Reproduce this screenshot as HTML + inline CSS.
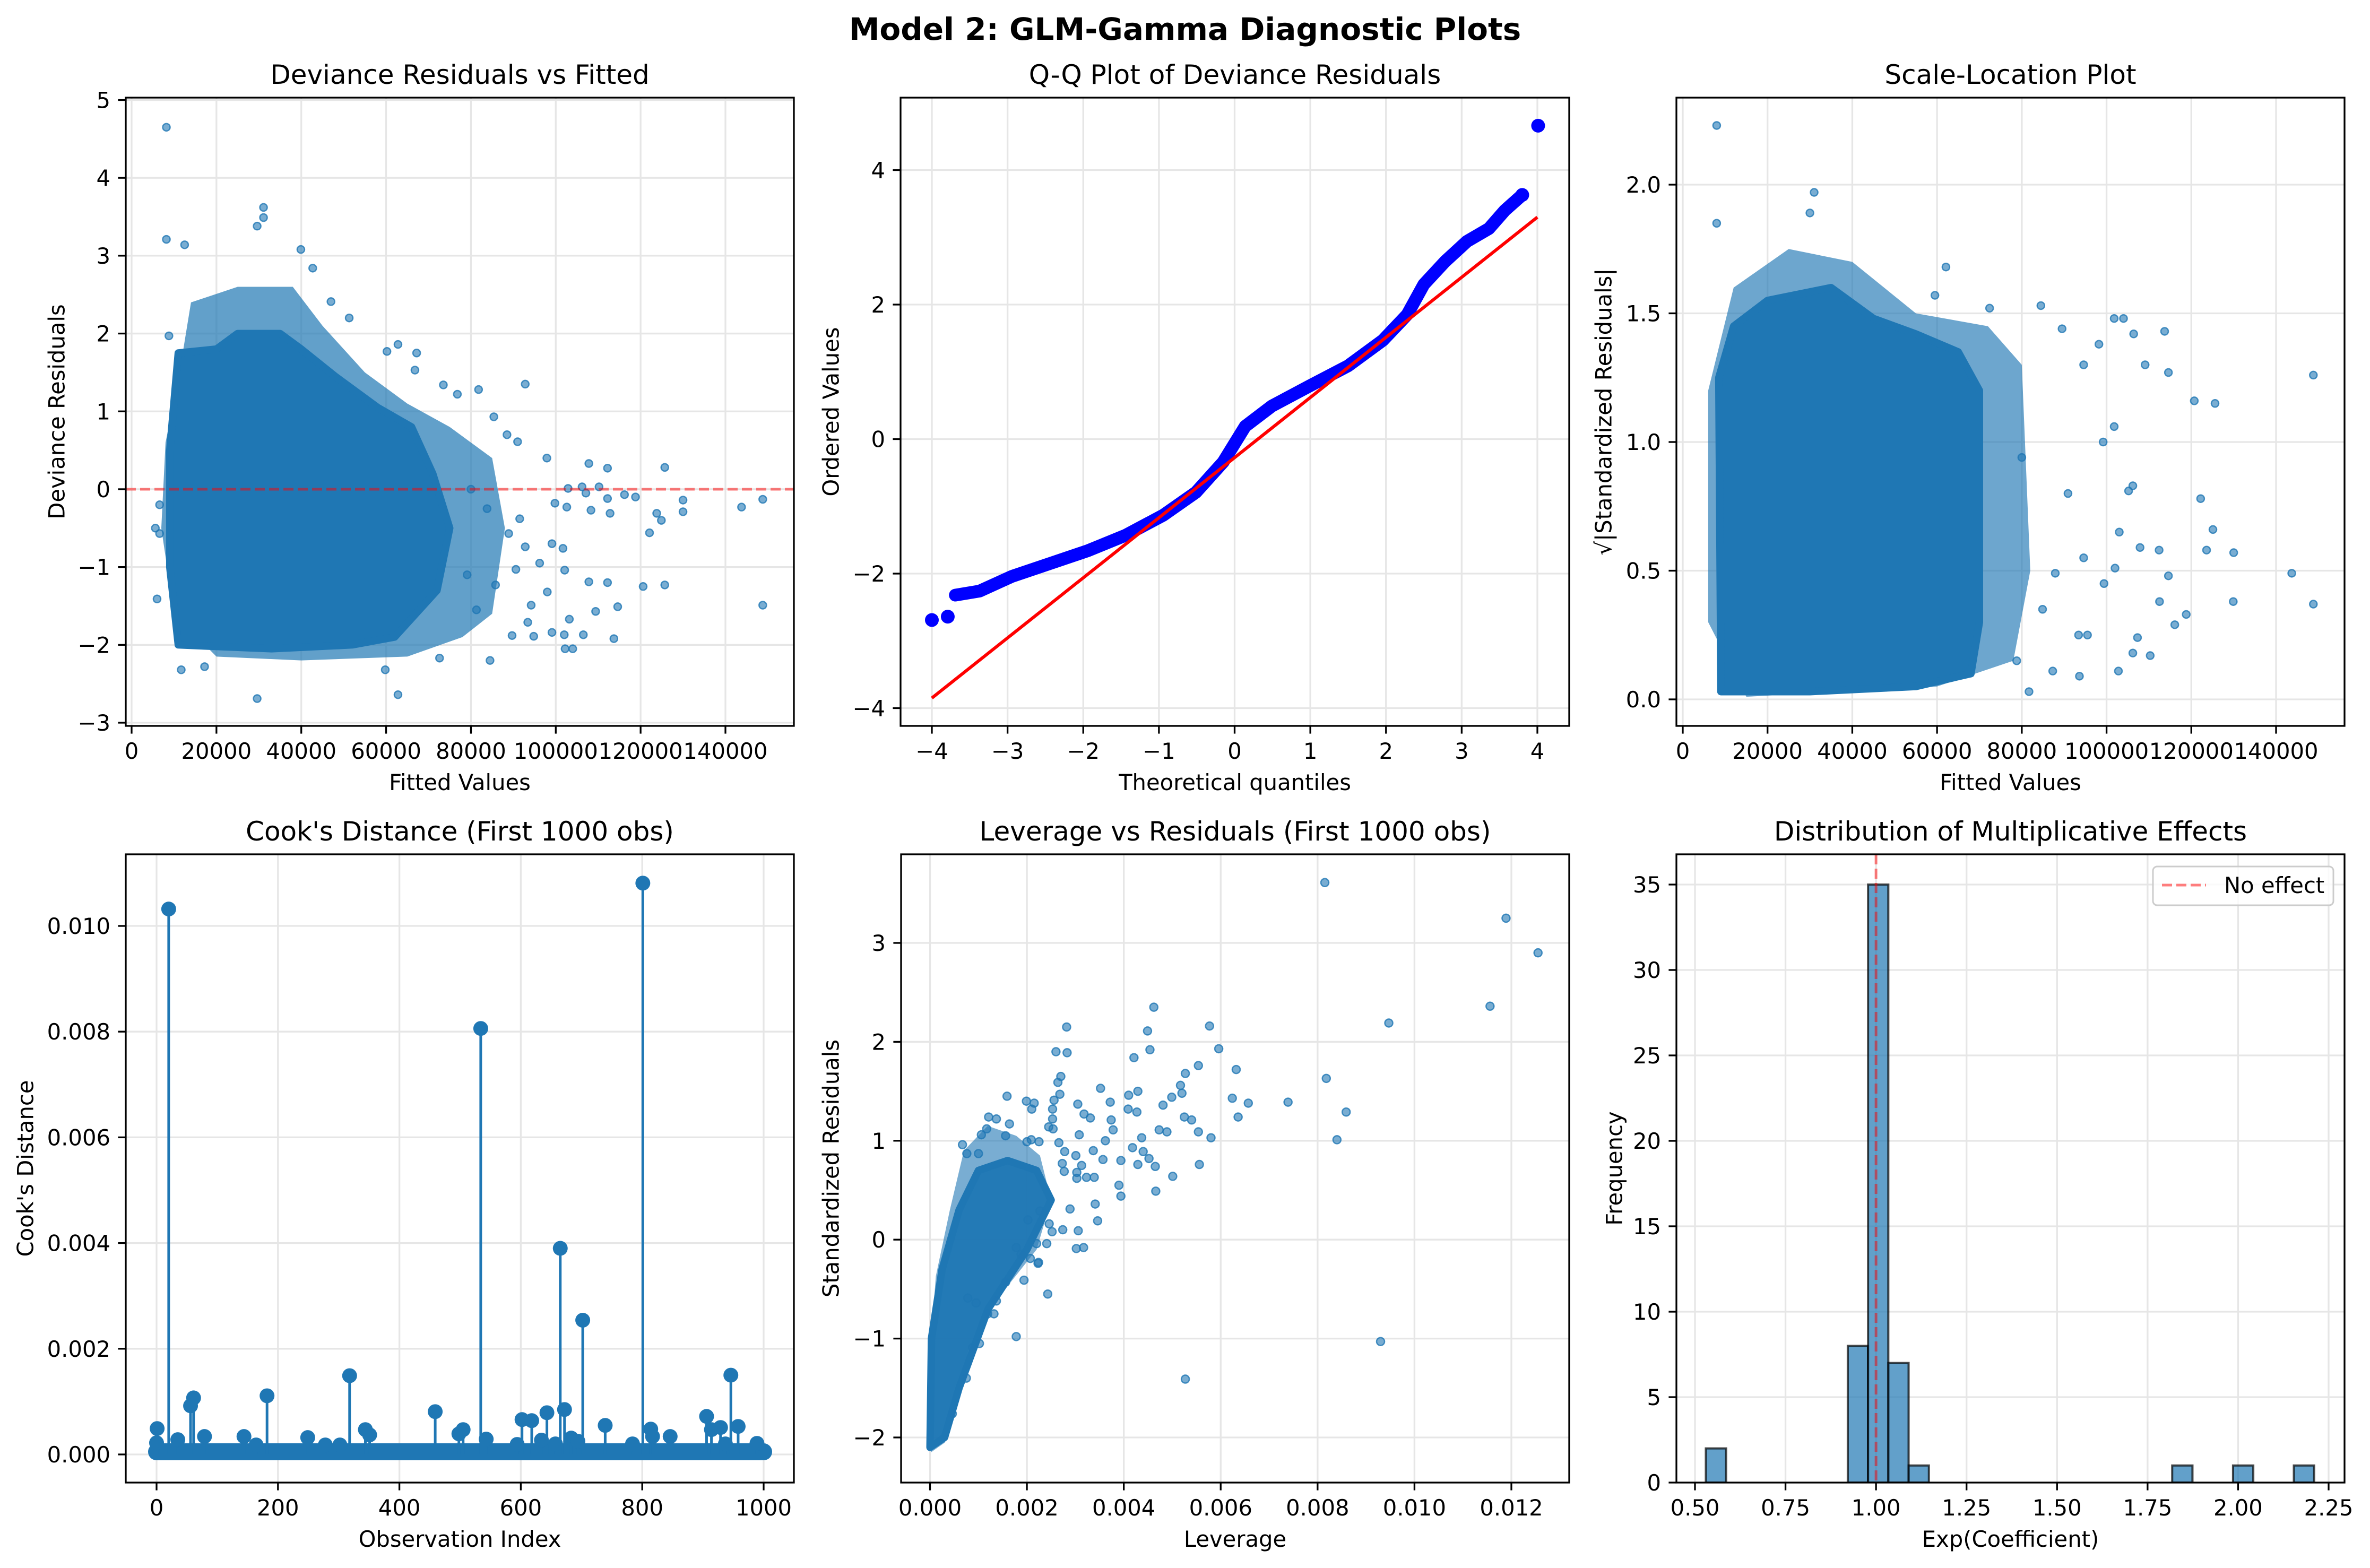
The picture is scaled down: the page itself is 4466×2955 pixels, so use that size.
<!DOCTYPE html>
<html><head><meta charset="utf-8"><title>Model 2: GLM-Gamma Diagnostic Plots</title>
<style>
html,body{margin:0;padding:0;background:#fff;}
svg{display:block;font-family:"DejaVu Sans","Liberation Sans",sans-serif;}
</style></head>
<body>
<svg id="fig" xmlns="http://www.w3.org/2000/svg" width="4466" height="2955" viewBox="0 0 4466 2955">
<rect x="0" y="0" width="4466" height="2955" fill="#fff"/>
<text x="2233" y="75" text-anchor="middle" font-size="58" font-weight="bold">Model 2: GLM-Gamma Diagnostic Plots</text>
</svg>
<script>
// ---------- Panel 1: Deviance residuals vs fitted ----------
const p1CoreX=[11000,20000,25000,35000,40000,48000,58000,66000,71000,75000,72000,62000,52000,33000,11000,9000,9000];
const p1CoreY=[1.75,1.8,2.0,2.0,1.8,1.45,1.05,0.8,0.2,-0.5,-1.3,-1.9,-2.0,-2.05,-2.0,-1.0,0.5];
const p1FringeX=[11000,14000,25000,38000,45000,55000,65000,75000,85000,88000,85000,78000,65000,40000,20000,10000,7000,8000];
const p1FringeY=[1.4,2.4,2.6,2.6,2.1,1.5,1.1,0.8,0.4,-0.5,-1.6,-1.9,-2.15,-2.2,-2.15,-1.6,-0.5,0.6];
const p1X=[8200,8200,12500,31100,31100,29600,39900,42700,47000,51300,8800,60200,62800,67200,66800,73500,81800,92800,76800,85400,88500,91000,97900,107800,112200,125700,102900,106200,110200,107100,112200,116200,118800,112800,108300,102600,99800,130000,130000,123800,124900,122100,143800,148800,148800,125700,120600,112200,107800,109400,114600,113700,106500,102000,104000,102200,103200,99100,102100,101700,99100,96200,98000,94200,93400,94800,90600,89700,84500,72600,62800,59800,29600,11700,17200,81300,79100,85800,88900,92800,83800,80000,91500,6600,6000,6600,5600];
const p1Y=[4.65,3.21,3.14,3.62,3.49,3.38,3.08,2.84,2.41,2.2,1.97,1.77,1.86,1.75,1.53,1.34,1.28,1.35,1.22,0.93,0.70,0.61,0.40,0.33,0.27,0.28,0.01,0.03,0.03,-0.05,-0.12,-0.07,-0.1,-0.31,-0.27,-0.23,-0.18,-0.14,-0.29,-0.31,-0.40,-0.56,-0.23,-0.13,-1.49,-1.23,-1.25,-1.2,-1.19,-1.57,-1.51,-1.92,-1.87,-1.87,-2.05,-2.05,-1.67,-1.84,-1.04,-0.76,-0.70,-0.95,-1.32,-1.49,-1.71,-1.89,-1.03,-1.88,-2.20,-2.17,-2.64,-2.32,-2.69,-2.32,-2.28,-1.55,-1.1,-1.23,-0.57,-0.74,-0.25,0,-0.38,-0.57,-1.41,-0.2,-0.5];
const p1XTicks=[0,20000,40000,60000,80000,100000,120000,140000];
const p1YTicks=[-3,-2,-1,0,1,2,3,4,5];

// ---------- Panel 2: Q-Q plot ----------
const qqTheo=[-3.69,-3.37,-2.94,-2.44,-1.94,-1.44,-0.94,-0.51,-0.15,0.14,0.49,0.99,1.50,1.96,2.28,2.50,2.78,3.07,3.36,3.57,3.80];
const qqOrd=[-2.32,-2.26,-2.04,-1.85,-1.66,-1.43,-1.13,-0.79,-0.34,0.19,0.49,0.79,1.09,1.47,1.85,2.30,2.64,2.94,3.13,3.40,3.63];
const qqOutTheo=[-4.0,-3.79,3.80,4.01];
const qqOutOrd=[-2.69,-2.64,3.63,4.66];
const qqLineTheo=[-4.0,4.0];
const qqLineOrd=[-3.85,3.30];
const p2XTicks=[-4,-3,-2,-1,0,1,2,3,4];
const p2YTicks=[-4,-2,0,2,4];

// ---------- Panel 3: Scale-location ----------
const p3CoreX=[9000,8500,12000,20000,35000,45000,55000,65000,70000,70000,68000,55000,30000];
const p3CoreY=[0.03,1.25,1.45,1.55,1.6,1.48,1.42,1.35,1.2,0.3,0.1,0.05,0.03];
const p3FringeX=[6000,6000,12000,25000,40000,55000,72000,80000,82000,78000,60000,15000];
const p3FringeY=[0.3,1.2,1.6,1.75,1.7,1.5,1.45,1.3,0.5,0.15,0.05,0.01];
const p3X=[8000,8000,31000,30000,59500,62100,72400,84500,89500,101800,104000,106400,113700,114600,109100,120700,125600,148800,122200,125100,123600,130000,143700,148800,129900,118800,116100,112400,112500,114600,110300,102800,106200,107300,107900,102000,103000,99400,99200,101800,106200,105200,98200,94600,93600,93400,95500,81700,94600,87900,90900,84900,80000,78800,87300];
const p3Y=[2.23,1.85,1.97,1.89,1.57,1.68,1.52,1.53,1.44,1.48,1.48,1.42,1.43,1.27,1.30,1.16,1.15,1.26,0.78,0.66,0.58,0.57,0.49,0.37,0.38,0.33,0.29,0.58,0.38,0.48,0.17,0.11,0.18,0.24,0.59,0.51,0.65,0.45,1.0,1.06,0.83,0.81,1.38,1.30,0.09,0.25,0.25,0.03,0.55,0.49,0.80,0.35,0.94,0.15,0.11];
const p3XTicks=[0,20000,40000,60000,80000,100000,120000,140000];
const p3YTicks=[0,0.5,1.0,1.5,2.0];

// ---------- Panel 4: Cook's distance ----------
const cookIdx=[20,534,801,665,702,318,946,182,61,56,459,672,643,602,618,906,739,958,929,505,498,814,344,351,1,846,914,144,79,249,35,817,543,634,683,694,989,0,784,594,657,164,278,302,937];
const cookVal=[0.01032,0.00806,0.01081,0.0039,0.00254,0.00149,0.0015,0.00111,0.00107,0.00092,0.00081,0.00085,0.00079,0.00066,0.00064,0.00072,0.00055,0.00053,0.00051,0.00047,0.00039,0.00048,0.00047,0.00037,0.00049,0.00034,0.00047,0.00034,0.00034,0.00032,0.00028,0.00034,0.00029,0.00027,0.00031,0.00025,0.00021,0.00022,0.0002,0.00019,0.0002,0.00018,0.00018,0.00018,0.0002];
const cookBaseRange=[0,1000];
const cookBaseVal=[0.00005];
const p4XTicks=[0,200,400,600,800,1000];
const p4YTicks=[0,0.002,0.004,0.006,0.008,0.010];

// ---------- Panel 5: Leverage vs residuals ----------
const p5FringeX=[0.00002,0,0.00012,0.00041,0.0007,0.00119,0.00178,0.00227,0.0025,0.0022,0.00139,0.0008,0.00051,0.00031];
const p5FringeY=[-2.15,-1.17,-0.37,0.3,0.9,1.15,1.05,0.85,0.4,-0.1,-0.6,-1.1,-1.7,-2.05];
const p5CoreX=[0,0.00003,0.00025,0.0006,0.001,0.0016,0.0022,0.0025,0.002,0.0012,0.0006,0.0003];
const p5CoreY=[-2.1,-1.0,-0.3,0.3,0.7,0.8,0.7,0.4,-0.1,-0.7,-1.5,-2.0];
const levX=[0.00815,0.01189,0.01255,0.01156,0.00947,0.00818,0.00859,0.0084,0.00739,0.0093,0.00527,0.00462,0.00449,0.00577,0.00596,0.00632,0.00624,0.00657,0.00636,0.00554,0.00527,0.00517,0.0052,0.00499,0.00481,0.00525,0.0054,0.00554,0.0058,0.00556,0.00501,0.00473,0.00489,0.00454,0.00421,0.0041,0.00429,0.00409,0.00427,0.00437,0.00418,0.0044,0.00452,0.00429,0.00465,0.00466,0.0039,0.00394,0.00394,0.00372,0.00352,0.00374,0.00378,0.00362,0.00337,0.00357,0.00339,0.00341,0.00346,0.00323,0.00313,0.00308,0.00305,0.00318,0.00331,0.00282,0.0026,0.00283,0.0027,0.00264,0.00268,0.00256,0.00253,0.00253,0.00254,0.00245,0.00266,0.00278,0.00301,0.00273,0.00277,0.00303,0.00303,0.00289,0.00274,0.00306,0.00302,0.00317,0.00243,0.00223,0.00241,0.00252,0.00246,0.00178,0.00194,0.00178,0.0022,0.00188,0.00207,0.00224,0.00202,0.00227,0.00199,0.00215,0.0021,0.002,0.00209,0.00225,0.00159,0.00164,0.00156,0.00137,0.00121,0.00117,0.00106,0.00067,0.00076,0.001,0.00156,0.00137,0.00132,0.00119,0.00102,0.00088,0.00075,0.00046,0.00095,0.00078];
const levRes=[3.61,3.25,2.9,2.36,2.19,1.63,1.29,1.01,1.39,-1.03,-1.41,2.35,2.11,2.16,1.93,1.72,1.43,1.38,1.24,1.76,1.68,1.56,1.48,1.44,1.36,1.24,1.21,1.09,1.03,0.76,0.64,1.11,1.09,1.92,1.84,1.46,1.5,1.32,1.29,1.03,0.93,0.89,0.82,0.76,0.74,0.49,0.55,0.44,0.8,1.39,1.53,1.21,1.11,1.0,0.9,0.81,0.63,0.36,0.19,0.63,0.75,1.06,1.37,1.27,1.23,2.15,1.9,1.89,1.65,1.59,1.47,1.41,1.32,1.22,1.12,1.14,0.98,0.89,0.85,0.77,0.69,0.68,0.62,0.31,0.1,0.09,-0.09,-0.08,-0.55,-0.24,-0.04,0.08,0.16,-0.08,-0.41,-0.98,-0.04,-0.15,-0.19,-0.23,0.2,0.29,1.4,1.38,1.32,0.99,1.01,0.99,1.45,1.17,1.05,1.22,1.24,1.12,1.06,0.96,0.87,0.87,-0.43,-0.62,-0.75,-0.75,-1.05,-1.09,-1.4,-1.76,-0.64,-0.59];
const p5XTicks=[0,0.002,0.004,0.006,0.008,0.010,0.012];
const p5YTicks=[-2,-1,0,1,2,3];

// ---------- Panel 6: Histogram ----------
const histStart=[0.530];
const histWidth=[0.056];
const histCounts=[2,0,0,0,0,0,0,8,35,7,1,0,0,0,0,0,0,0,0,0,0,0,0,1,0,0,1,0,0,1];
const noEffect=[1.0];
const p6XTicks=[0.5,0.75,1.0,1.25,1.5,1.75,2.0,2.25];
const p6YTicks=[0,5,10,15,20,25,30,35];

const NS="http://www.w3.org/2000/svg";
const svg=document.getElementById('fig');
const BLUE="#1f77b4";
function mk(tag,attrs,parent){const e=document.createElementNS(NS,tag);for(const k in attrs)e.setAttribute(k,attrs[k]);(parent||svg).appendChild(e);return e;}
function lin(d0,p0,d1,p1){return v=>p0+(v-d0)*(p1-p0)/(d1-d0);}
function fmt(v,dec){let s=v.toFixed(dec);if(v<0)s="\u2212"+s.slice(1);return s;}

function axes(cfg){
  const g=mk('g',{});
  
  
  const {L,R,T,B,sx,sy}=cfg;
  const clipId='clip-'+cfg.name;
  const cp=mk('clipPath',{id:clipId},g);mk('rect',{x:L,y:T,width:R-L,height:B-T},cp);
  const grid=mk('g',{},g);
  
  
  cfg.xt.forEach(v=>{const x=sx(v);mk('line',{x1:x,x2:x,y1:T,y2:B,stroke:'#e6e6e6','stroke-width':3.3},grid);});
  cfg.yt.forEach(v=>{const y=sy(v);mk('line',{x1:L,x2:R,y1:y,y2:y,stroke:'#e6e6e6','stroke-width':3.3},grid);});
  const plot=mk('g',{'clip-path':'url(#'+clipId+')'},g);
  
  
  cfg.draw(plot);
  mk('rect',{x:L,y:T,width:R-L,height:B-T,fill:'none',stroke:'#000','stroke-width':3.3},g);
  const xa=mk('g',{},g);
  
  
  cfg.xt.forEach(v=>{const x=sx(v);mk('line',{x1:x,x2:x,y1:B,y2:B+14.6,stroke:'#000','stroke-width':3.3},xa);
    const t=mk('text',{x:x,y:B+62,'text-anchor':'middle','font-size':41.7},xa);t.textContent=fmt(v,cfg.xd);});
  const ya=mk('g',{},g);
  
  
  cfg.yt.forEach(v=>{const y=sy(v);mk('line',{x1:L,x2:L-14.6,y1:y,y2:y,stroke:'#000','stroke-width':3.3},ya);
    const t=mk('text',{x:L-29,y:y+15,'text-anchor':'end','font-size':41.7},ya);t.textContent=fmt(v,cfg.yd);});
  const tt=mk('text',{x:(L+R)/2,y:T-26,'text-anchor':'middle','font-size':50},g);tt.textContent=cfg.title;
  
  
  const xl=mk('text',{x:(L+R)/2,y:B+121,'text-anchor':'middle','font-size':41.7},g);xl.textContent=cfg.xlabel;
  
  
  const cy=(T+B)/2;
  const yl=mk('text',{x:cfg.ylx,y:cy,'text-anchor':'middle','font-size':41.7,transform:'rotate(-90 '+cfg.ylx+' '+cy+')',dy:'0.35em'},g);yl.textContent=cfg.ylabel;
  
  
  return g;
}
function poly(parent,xs,ys,sx,sy,op,name,stroke){
  const pts=xs.map((x,i)=>sx(x)+','+sy(ys[i])).join(' ');
  const a={points:pts,fill:BLUE,'fill-opacity':op,'stroke-linejoin':'round'};
  if(stroke){a.stroke=BLUE;a['stroke-width']=14;}
  const p=mk('polygon',a,parent);
  
  
}
function dots(parent,xs,ys,sx,sy,r,name){
  xs.forEach((x,i)=>{const c=mk('circle',{cx:sx(x),cy:sy(ys[i]),r:r,fill:BLUE,'fill-opacity':0.6,stroke:BLUE,'stroke-opacity':0.8,'stroke-width':2.5},parent);
    
    });
}

// Panel 1
(function(){const L=237,R=1496,T=184,B=1368;const sx=lin(0,248,140000,1367),sy=lin(5,188.5,-3,1362);
axes({name:'residuals-vs-fitted',L,R,T,B,sx,sy,xt:p1XTicks,yt:p1YTicks,xd:0,yd:0,title:'Deviance Residuals vs Fitted',xlabel:'Fitted Values',ylabel:'Deviance Residuals',ylx:107,
draw:g=>{poly(g,p1FringeX,p1FringeY,sx,sy,0.7,'residual-cloud-fringe',false);poly(g,p1CoreX,p1CoreY,sx,sy,1,'residual-cloud-core',true);dots(g,p1X,p1Y,sx,sy,7,'residual-point');
const z=mk('line',{x1:L,x2:R,y1:sy(0),y2:sy(0),stroke:'red','stroke-opacity':0.5,'stroke-width':5,'stroke-dasharray':'19 8'},g);

}});})();

// Panel 2
(function(){const L=1697,R=2957,T=184,B=1368;const sx=lin(-4,1756,4,2897),sy=lin(4,320.5,-4,1334.5);
axes({name:'qq-plot',L,R,T,B,sx,sy,xt:p2XTicks,yt:p2YTicks,xd:0,yd:0,title:'Q-Q Plot of Deviance Residuals',xlabel:'Theoretical quantiles',ylabel:'Ordered Values',ylx:1566,
draw:g=>{const pts=qqTheo.map((q,i)=>sx(q)+','+sy(qqOrd[i])).join(' ');
const pl=mk('polyline',{points:pts,fill:'none',stroke:'#0000ff','stroke-width':24,'stroke-linejoin':'round','stroke-linecap':'round'},g);


qqOutTheo.forEach((q,i)=>{const c=mk('circle',{cx:sx(q),cy:sy(qqOutOrd[i]),r:13,fill:'#0000ff'},g);

});
const rl=mk('line',{x1:sx(qqLineTheo[0]),y1:sy(qqLineOrd[0]),x2:sx(qqLineTheo[1]),y2:sy(qqLineOrd[1]),stroke:'red','stroke-width':6},g);

}});})();

// Panel 3
(function(){const L=3159,R=4418,T=184,B=1368;const sx=lin(0,3171,140000,4289),sy=lin(2,348,0,1318);
axes({name:'scale-location',L,R,T,B,sx,sy,xt:p3XTicks,yt:p3YTicks,xd:0,yd:1,title:'Scale-Location Plot',xlabel:'Fitted Values',ylabel:'\u221a|Standardized Residuals|',ylx:3022,
draw:g=>{poly(g,p3FringeX,p3FringeY,sx,sy,0.65,'scale-cloud-fringe',false);poly(g,p3CoreX,p3CoreY,sx,sy,1,'scale-cloud-core',true);dots(g,p3X,p3Y,sx,sy,7,'scale-point');}});})();

// Panel 4
(function(){const L=237,R=1496,T=1610,B=2794;const sx=lin(0,295,1000,1439),sy=lin(0,2741,0.010,1745);
axes({name:'cooks-distance',L,R,T,B,sx,sy,xt:p4XTicks,yt:p4YTicks,xd:0,yd:3,title:"Cook's Distance (First 1000 obs)",xlabel:'Observation Index',ylabel:"Cook's Distance",ylx:48,
draw:g=>{const b=mk('line',{x1:sx(cookBaseRange[0]),x2:sx(cookBaseRange[1]),y1:sy(cookBaseVal[0]),y2:sy(cookBaseVal[0]),stroke:BLUE,'stroke-width':32,'stroke-linecap':'round'},g);


cookIdx.forEach((ix,i)=>{const x=sx(ix),y=sy(cookVal[i]);
const s=mk('line',{x1:x,x2:x,y1:sy(0),y2:y,stroke:BLUE,'stroke-width':5},g);


const c=mk('circle',{cx:x,cy:y,r:14,fill:BLUE},g);

});}});})();

// Panel 5
(function(){const L=1698,R=2957,T=1610,B=2794;const sx=lin(0,1752.5,0.012,2848),sy=lin(3,1777,-2,2709);
axes({name:'leverage-vs-residuals',L,R,T,B,sx,sy,xt:p5XTicks,yt:p5YTicks,xd:3,yd:0,title:'Leverage vs Residuals (First 1000 obs)',xlabel:'Leverage',ylabel:'Standardized Residuals',ylx:1566,
draw:g=>{poly(g,p5FringeX,p5FringeY,sx,sy,0.6,'leverage-cloud-fringe',false);poly(g,p5CoreX,p5CoreY,sx,sy,0.95,'leverage-cloud-core',true);dots(g,levX,levRes,sx,sy,7.5,'leverage-point');}});})();

// Panel 6
(function(){const L=3159,R=4418,T=1610,B=2794;const sx=lin(0.5,3194,2.25,4388),sy=lin(0,2794,35,1667);
axes({name:'multiplicative-effects-histogram',L,R,T,B,sx,sy,xt:p6XTicks,yt:p6YTicks,xd:2,yd:0,title:'Distribution of Multiplicative Effects',xlabel:'Exp(Coefficient)',ylabel:'Frequency',ylx:3042,
draw:g=>{histCounts.forEach((n,i)=>{if(!n)return;const x0=sx(histStart[0]+i*histWidth[0]),x1=sx(histStart[0]+(i+1)*histWidth[0]);
const r=mk('rect',{x:x0,y:sy(n),width:x1-x0,height:sy(0)-sy(n),fill:BLUE,'fill-opacity':0.7,stroke:'#000','stroke-opacity':0.7,'stroke-width':4},g);

});
const v=mk('line',{x1:sx(noEffect[0]),x2:sx(noEffect[0]),y1:T,y2:B,stroke:'red','stroke-opacity':0.5,'stroke-width':5,'stroke-dasharray':'19 8'},g);

}});
const lg=mk('g',{});


mk('rect',{x:4057,y:1633,width:340,height:73,rx:8,fill:'#fff','fill-opacity':0.8,stroke:'#ccc','stroke-width':3},lg);
const ll=mk('line',{x1:4074,x2:4157,y1:1668,y2:1668,stroke:'red','stroke-opacity':0.5,'stroke-width':5,'stroke-dasharray':'19 8'},lg);


const lt=mk('text',{x:4191,y:1683,'font-size':41.7},lg);lt.textContent='No effect';

})();
</script>
</body></html>
